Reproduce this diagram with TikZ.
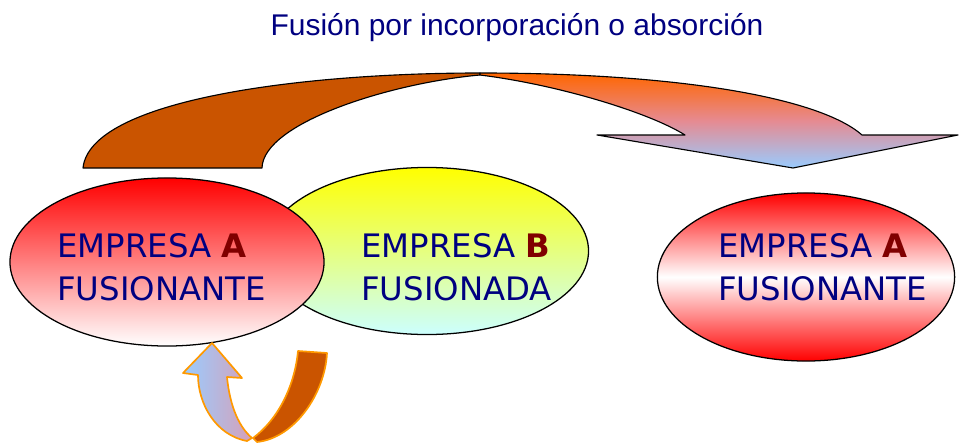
\documentclass[tikz,border=0pt]{standalone}
\usepackage{fontspec}
\usepackage{tikz}
\usetikzlibrary{shapes.geometric}
\setmainfont{Liberation Sans}
\newfontfamily\firmfont{DejaVu Sans}
\definecolor{navyblue}{RGB}{0,0,128}
\definecolor{darkred}{RGB}{128,0,0}
\definecolor{rust}{RGB}{202,84,0}
\definecolor{skyblue}{RGB}{153,204,255}
\definecolor{flame}{RGB}{255,102,0}
\definecolor{salmon}{RGB}{230,138,145}
\definecolor{amber}{RGB}{255,153,0}
\definecolor{paleblue}{RGB}{204,255,255}
\definecolor{mauve}{RGB}{214,160,185}
\newcommand\firmletter[1]{{\bfseries\color{darkred}#1}}
\tikzset{
  firm/.style={ellipse, draw=black, line width=0.9pt, inner sep=0pt},
  firmtext/.style={anchor=base west, inner sep=0pt, text=navyblue,
    font=\firmfont\fontsize{23}{27}\selectfont},
  bigarrow/.style={draw=black, line width=0.8pt, line join=round},
  smallarrow/.style={draw=amber, line width=1.2pt, line join=round}
}

\begin{document}
\begin{tikzpicture}[x=0.025cm, y=0.025cm]
        \useasboundingbox (0,0) rectangle (965,443);
        \node[anchor=base, text=navyblue, font=\fontsize{21.3}{25}\selectfont] (title) at (517,408) {Fusión por incorporación o absorción};

        \node[firm, minimum width=8.075cm, minimum height=4.175cm, top color=yellow, bottom color=paleblue] (firmB) at (427,192) {};
        \node[firm, minimum width=7.85cm, minimum height=4.2cm, top color=red, bottom color=white] (firmA) at (167,181) {};
        \node[firm, minimum width=7.43cm, minimum height=4.2cm, top color=red, bottom color=red, middle color=white] (merged) at (806,166) {};

        \node[firmtext] (firmAtop) at (57,186) {EMPRESA \firmletter{A}};
        \node[firmtext] (firmAbot) at (57,143) {FUSIONANTE};
        \node[firmtext] (firmBtop) at (361,186) {EMPRESA \firmletter{B}};
        \node[firmtext] (firmBbot) at (361,143) {FUSIONADA};
        \node[firmtext] (mergedtop) at (718,186) {EMPRESA \firmletter{A}};
        \node[firmtext] (mergedbot) at (718,143) {FUSIONANTE};

        \draw[bigarrow, fill=rust] (83,275) .. controls (90,343) and (300,370) .. (480,370) -- (480,368) .. controls (390,360) and (263,320) .. (262,275) -- cycle;
        \draw[bigarrow, top color=flame, bottom color=skyblue, middle color=salmon] (480,370) .. controls (680,370) and (820,345) .. (862,308) -- (958,308) -- (793,275) -- (597,308) -- (685,308) .. controls (650,330) and (560,358) .. (480,368) -- cycle;

        \draw[smallarrow, fill=rust] (253,5) .. controls (280,25) and (295,60) .. (298,92) -- (327,90) .. controls (325,50) and (295,5) .. (257,1) -- cycle;
        \draw[smallarrow, left color=skyblue, right color=mauve] (212,100) -- (242,65) -- (227,66) .. controls (230,35) and (240,15) .. (252,5) -- (247,2) .. controls (215,8) and (198,40) .. (198,68) -- (183,70) -- cycle;
    \end{tikzpicture}
\end{document}
